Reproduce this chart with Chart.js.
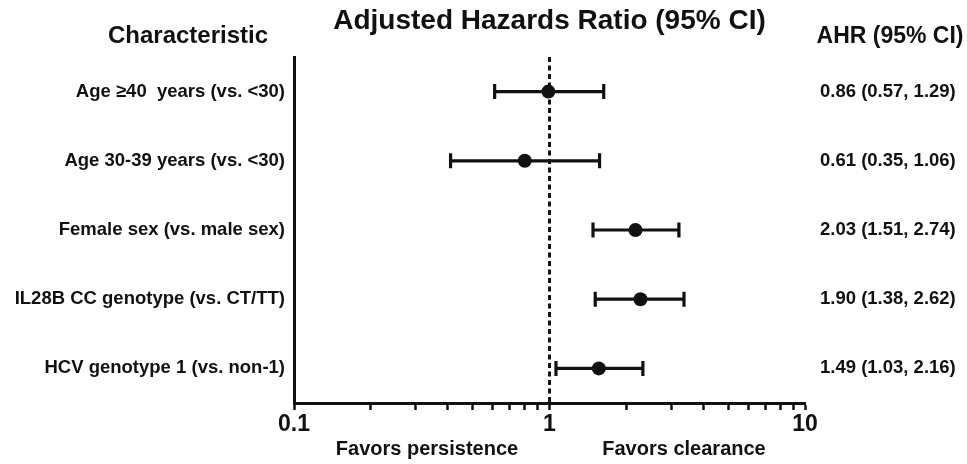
<!DOCTYPE html>
<html><head><meta charset="utf-8">
<style>html,body{margin:0;padding:0;background:#fff}#wrap{width:967px;height:464px}</style>
<script src="https://cdn.jsdelivr.net/npm/chart.js@4"></script>
</head><body><div id="wrap"><canvas id="c" width="967" height="464"></canvas></div>
<script>
const categories = ['Age \u226540  years (vs. <30)', 'Age 30-39 years (vs. <30)', 'Female sex (vs. male sex)', 'IL28B CC genotype (vs. CT/TT)', 'HCV genotype 1 (vs. non-1)'];
const ahrPoint = [0.99, 0.80, 2.17, 2.27, 1.56];
const ciLower = [0.61, 0.41, 1.48, 1.51, 1.06];
const ciUpper = [1.63, 1.57, 3.21, 3.36, 2.32];
const ahrText = ['0.86 (0.57, 1.29)', '0.61 (0.35, 1.06)', '2.03 (1.51, 2.74)', '1.90 (1.38, 2.62)', '1.49 (1.03, 2.16)'];
const xTickValues = [0.1,0.2,0.3,0.4,0.5,0.6,0.7,0.8,0.9,1,2,3,4,5,6,7,8,9,10];
const xMajorTicks = [0.1, 1, 10];
const referenceLine = 1;
const titleText = 'Adjusted Hazards Ratio (95% CI)';
const leftHeader = 'Characteristic';
const rightHeader = 'AHR (95% CI)';
const favorsLeft = 'Favors persistence';
const favorsRight = 'Favors clearance';

const FONT = "'Liberation Sans', Arial, sans-serif";
const INK = '#111';
Chart.defaults.font.family = FONT;
Chart.defaults.color = INK;

const forestPlugin = {
  id: 'forest',
  beforeDatasetsDraw(chart) {
    const {ctx, chartArea, scales: {x, y}} = chart;
    ctx.save();
    ctx.strokeStyle = INK;
    ctx.lineWidth = 3;
    ctx.setLineDash([5, 3.5]);
    const xr = x.getPixelForValue(referenceLine);
    ctx.beginPath(); ctx.moveTo(xr, chartArea.top); ctx.lineTo(xr, chartArea.bottom); ctx.stroke();
    ctx.setLineDash([]);
    ctx.lineWidth = 3.2;
    categories.forEach((c, i) => {
      const yy = y.getPixelForValue(i);
      const x1 = x.getPixelForValue(ciLower[i]);
      const x2 = x.getPixelForValue(ciUpper[i]);
      ctx.beginPath();
      ctx.moveTo(x1, yy); ctx.lineTo(x2, yy);
      ctx.moveTo(x1, yy - 7.5); ctx.lineTo(x1, yy + 7.5);
      ctx.moveTo(x2, yy - 7.5); ctx.lineTo(x2, yy + 7.5);
      ctx.stroke();
    });
    ctx.restore();
  },
  afterDraw(chart) {
    const {ctx} = chart;
    ctx.save();
    ctx.fillStyle = INK;
    ctx.textBaseline = 'alphabetic';
    ctx.textAlign = 'center';
    ctx.font = `bold 24px ${FONT}`;
    ctx.fillText(leftHeader, 188, 43);
    ctx.font = `bold 23px ${FONT}`;
    ctx.fillText(rightHeader, 890, 43);
    ctx.font = `bold 20px ${FONT}`;
    ctx.fillText(favorsLeft, 427, 455);
    ctx.fillText(favorsRight, 684, 455);
    ctx.restore();
  }
};

new Chart(document.getElementById('c'), {
  type: 'scatter',
  data: {
    datasets: [{
      data: ahrPoint.map((v, i) => ({x: v, y: categories[i]})),
      backgroundColor: INK,
      borderWidth: 0,
      pointRadius: 7,
      pointHoverRadius: 7
    }]
  },
  options: {
    responsive: false,
    animation: false,
    layout: {padding: 0},
    plugins: {
      legend: {display: false},
      tooltip: {enabled: false},
      title: {
        display: true,
        text: titleText,
        fullSize: false,
        color: INK,
        font: {size: 28, weight: 'bold', family: FONT},
        padding: {top: 4.5, bottom: 18.9}
      }
    },
    scales: {
      x: {
        type: 'logarithmic',
        min: 0.1,
        max: 10,
        afterBuildTicks(scale) { scale.ticks = xTickValues.map(v => ({value: v, major: xMajorTicks.includes(v)})); },
        afterFit(scale) { scale.height = 61; },
        ticks: {
          autoSkip: false,
          maxRotation: 0,
          padding: 1,
          color: INK,
          font: {size: 23, weight: 'bold'},
          callback(v) { return xMajorTicks.includes(v) ? String(v) : ''; }
        },
        grid: {display: true, drawOnChartArea: false, drawTicks: true, tickLength: 7, tickWidth: 2.5, tickColor: INK},
        border: {display: true, width: 3, color: INK}
      },
      y: {
        type: 'category',
        labels: categories,
        offset: true,
        position: 'left',
        afterFit(scale) { scale.width = 294; },
        ticks: {padding: 9, color: INK, font: {size: 18.5, weight: 'bold'}, autoSkip: false},
        grid: {display: true, drawOnChartArea: false, drawTicks: false},
        border: {display: true, width: 3, color: INK}
      },
      y2: {
        type: 'category',
        labels: ahrText,
        offset: true,
        position: 'right',
        afterFit(scale) { scale.width = 162; },
        ticks: {padding: 15, color: INK, font: {size: 18.5, weight: 'bold'}, autoSkip: false},
        grid: {display: false, drawTicks: false},
        border: {display: false}
      }
    }
  },
  plugins: [forestPlugin]
});
</script>
</body></html>
